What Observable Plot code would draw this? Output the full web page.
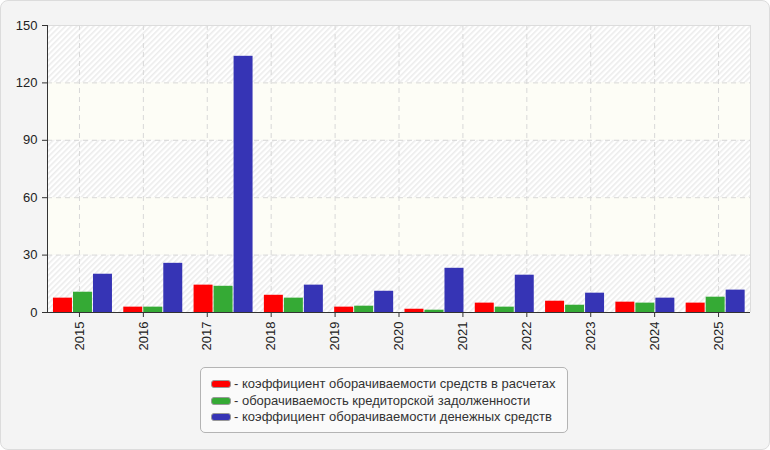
<!DOCTYPE html>
<html>
<head>
<meta charset="utf-8">
<script src="https://cdn.jsdelivr.net/npm/d3@7"></script>
<script src="https://cdn.jsdelivr.net/npm/@observablehq/plot@0.6"></script>
<style>
  html, body { margin: 0; padding: 0; background: #fff; }
  #wrap { position: relative; width: 770px; height: 450px; font-family: "Liberation Sans", Arial, sans-serif; }
  #panel { position: absolute; left: 0; top: 0; width: 768px; height: 448px; border: 1px solid #dcdcdc; border-radius: 8px; background: #f4f4f4; }
  #chart { position: absolute; left: 0; top: 0; }
  #legend { position: absolute; left: 200px; top: 367px; width: 366px; height: 64px; border: 1px solid #b4b4b4; border-radius: 5px; background: #fafafa; }
  .row { position: absolute; left: 10px; height: 16px; line-height: 16px; font-size: 13px; color: #333; white-space: nowrap; }
  .sw { display: inline-block; width: 18px; height: 6px; border: 1px solid #999; border-radius: 3px; vertical-align: 0px; margin-right: 3px; }
</style>
</head>
<body>
<div id="wrap">
  <div id="panel"></div>
  <div id="chart"></div>
  <div id="legend"></div>
</div>
<script>
// Tick labels of the x axis (11 years)
const years = [2015, 2016, 2017, 2018, 2019, 2020, 2021, 2022, 2023, 2024, 2025];
// Series (10 bar groups)
const seriesNames = [
  "коэффициент оборачиваемости средств в расчетах",
  "оборачиваемость кредиторской задолженности",
  "коэффициент оборачиваемости денежных средств"
];
const seriesColors = ["#ff0000", "#35aa35", "#3634b5"];
const receivablesTurnover = [7.5, 2.8, 14.3, 9.0, 2.8, 1.7, 4.9, 5.9, 5.4, 4.9];
const payablesTurnover   = [10.6, 2.8, 13.7, 7.5, 3.3, 1.2, 2.8, 3.8, 4.9, 8.0];
const cashTurnover       = [20.0, 25.7, 133.9, 14.3, 11.1, 23.1, 19.5, 10.1, 7.5, 11.7];
const yTicks = [0, 30, 60, 90, 120, 150];

const seriesValues = [receivablesTurnover, payablesTurnover, cashTurnover];
const nGroups = receivablesTurnover.length;

// layout fractions inside each group (group width = 1 unit)
const groupPad = 0.085, barStep = 0.2845, barW = 0.27;

const bars = [];
seriesValues.forEach((vals, s) => {
  vals.forEach((v, i) => {
    bars.push({
      series: seriesNames[s],
      x1: i + groupPad + s * barStep,
      x2: i + groupPad + s * barStep + barW,
      value: v
    });
  });
});

const bands = yTicks.slice(0, -1).map((lo, k) => ({lo, hi: yTicks[k + 1], hatched: k % 2 === 0}));
const tickPos = years.map((_, j) => (j + 0.5) * nGroups / years.length);

const chart = Plot.plot({
  width: 770,
  height: 360,
  marginLeft: 47,
  marginRight: 20,
  marginTop: 25,
  marginBottom: 48,
  style: {background: "transparent", fontFamily: "'Liberation Sans', Arial, sans-serif", fontSize: "13px", color: "#222"},
  x: {type: "linear", domain: [0, nGroups], axis: null},
  y: {domain: [0, 150], axis: null},
  color: {domain: seriesNames, range: seriesColors},
  marks: [
    Plot.rect(bands.filter(d => d.hatched), {y1: "lo", y2: "hi", fill: "#ffffff", className: "hatchband"}),
    Plot.rect(bands.filter(d => !d.hatched), {y1: "lo", y2: "hi", fill: "#fdfdf6"}),
    Plot.ruleX(tickPos, {stroke: "#d8d8d8", strokeDasharray: "5,4"}),
    Plot.ruleY(yTicks.slice(1, -1), {stroke: "#d8d8d8", strokeDasharray: "5,4"}),
    Plot.ruleY([150], {stroke: "#dcdcdc"}),
    Plot.ruleX([nGroups], {stroke: "#dcdcdc"}),
    Plot.rectY(bars, {x1: "x1", x2: "x2", y: "value", fill: "series"}),
    Plot.ruleX([0], {stroke: "#333"}),
    Plot.ruleY([0], {stroke: "#333"}),
    Plot.axisY({ticks: yTicks, tickSize: 5, tickPadding: 5, stroke: "#333", fill: "#222", fontSize: 13}),
    Plot.axisX({ticks: tickPos, tickFormat: d => String(years[Math.round(d * years.length / nGroups - 0.5)]), tickRotate: -90, tickSize: 5, tickPadding: 4, stroke: "#333", fill: "#222", fontSize: 13})
  ]
});

// hatch pattern for alternate background bands
const svgSel = d3.select(chart);
const defs = svgSel.insert("defs", ":first-child");
const pat = defs.append("pattern").attr("id", "hatch").attr("patternUnits", "userSpaceOnUse")
  .attr("width", 4).attr("height", 4).attr("patternTransform", "rotate(45)");
pat.append("rect").attr("width", 4).attr("height", 4).attr("fill", "#ffffff");
pat.append("rect").attr("width", 1.6).attr("height", 4).attr("fill", "#ececec");
svgSel.selectAll(".hatchband rect").attr("fill", "url(#hatch)");
svgSel.selectAll("g.hatchband").attr("fill", "url(#hatch)");

document.getElementById("chart").appendChild(chart);

// legend
const legend = document.getElementById("legend");
seriesNames.forEach((name, s) => {
  const row = document.createElement("div");
  row.className = "row";
  row.style.top = (8 + s * 16.5) + "px";
  const sw = document.createElement("span");
  sw.className = "sw";
  sw.style.background = seriesColors[s];
  row.appendChild(sw);
  row.appendChild(document.createTextNode("- " + name));
  legend.appendChild(row);
});
</script>
</body>
</html>
